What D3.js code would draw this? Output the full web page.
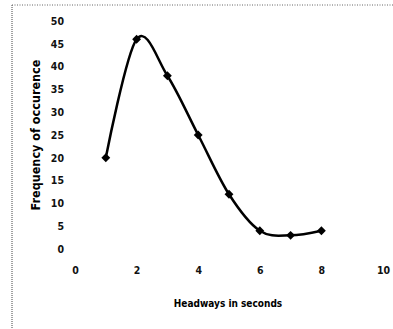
<!DOCTYPE html>
<html><head><meta charset="utf-8">
<script src="https://cdn.jsdelivr.net/npm/d3@7"></script>
<style>body{margin:0;background:#fff}svg{display:block}</style>
</head><body>
<script>
const headways = [1, 2, 3, 4, 5, 6, 7, 8];
const frequency = [20, 46, 38, 25, 12, 4, 3, 4];
const xTicks = [0, 2, 4, 6, 8, 10];
const yTicks = [0, 5, 10, 15, 20, 25, 30, 35, 40, 45, 50];
const xTitle = "Headways in seconds";
const yTitle = "Frequency of occurence";

const W = 393, H = 329;
const svg = d3.select("body").append("svg").attr("width", W).attr("height", H);
const font = "'Liberation Sans Narrow','DejaVu Sans Condensed','Liberation Sans',sans-serif";

// scanned frame
svg.append("line").attr("x1", 12).attr("x2", 12).attr("y1", 5).attr("y2", H)
  .attr("stroke", "#444").attr("stroke-width", 1).attr("stroke-dasharray", "1,1");
svg.append("line").attr("x1", 12).attr("x2", W).attr("y1", 5).attr("y2", 5)
  .attr("stroke", "#666").attr("stroke-width", 1).attr("stroke-dasharray", "1,1.5");

const x = d3.scaleLinear().domain([0, 10]).range([75, 383]);
const y = d3.scaleLinear().domain([0, 50]).range([249, 21]);

const yAxis = svg.append("g").attr("transform", "translate(64,0)")
  .call(d3.axisLeft(y).tickValues(yTicks).tickSize(0).tickPadding(0));
yAxis.select(".domain").remove();
yAxis.selectAll("text").attr("font-family", font).attr("font-size", 10.5).attr("font-weight", "bold").attr("fill", "#111");

const xAxis = svg.append("g").attr("transform", "translate(0,267)")
  .call(d3.axisBottom(x).tickValues(xTicks).tickSize(0).tickPadding(0));
xAxis.select(".domain").remove();
xAxis.selectAll("text").attr("font-family", font).attr("font-size", 10.5).attr("font-weight", "bold").attr("fill", "#111");

const pts = headways.map((h, i) => [h, frequency[i]]);
const line = d3.line().x(d => x(d[0])).y(d => y(d[1])).curve(d3.curveCatmullRom.alpha(0));
svg.append("path").datum(pts).attr("d", line).attr("fill", "none")
  .attr("stroke", "#000").attr("stroke-width", 2.5);

svg.append("g").selectAll("path").data(pts).join("path")
  .attr("transform", d => `translate(${x(d[0])},${y(d[1])})`)
  .attr("d", d3.symbol(d3.symbolDiamond2, 50)).attr("fill", "#000");

svg.append("text").attr("x", 228).attr("y", 307).attr("text-anchor", "middle")
  .attr("font-family", font).attr("font-size", 10).attr("font-weight", "bold").text(xTitle);
svg.append("text").attr("transform", "translate(40,135) rotate(-90)").attr("text-anchor", "middle")
  .attr("font-family", font).attr("font-size", 12.5).attr("font-weight", "bold").text(yTitle);
</script>
</body></html>
